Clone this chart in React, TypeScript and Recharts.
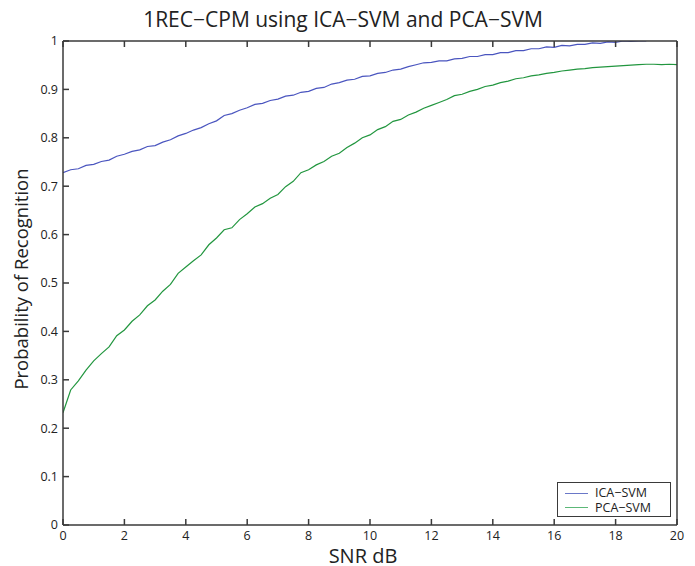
import React from "react";
import { LineChart, Line, XAxis, YAxis } from "recharts";

const snr = [
  0, 0.25, 0.5, 0.75, 1, 1.25, 1.5, 1.75, 2, 2.25, 2.5, 2.75, 3, 3.25, 3.5, 3.75,
  4, 4.25, 4.5, 4.75, 5, 5.25, 5.5, 5.75, 6, 6.25, 6.5, 6.75, 7, 7.25, 7.5, 7.75,
  8, 8.25, 8.5, 8.75, 9, 9.25, 9.5, 9.75, 10, 10.25, 10.5, 10.75, 11, 11.25, 11.5, 11.75,
  12, 12.25, 12.5, 12.75, 13, 13.25, 13.5, 13.75, 14, 14.25, 14.5, 14.75, 15, 15.25, 15.5, 15.75,
  16, 16.25, 16.5, 16.75, 17, 17.25, 17.5, 17.75, 18, 18.25, 18.5, 18.75, 19, 19.25, 19.5, 19.75, 20,
];

const icaSvm = [
  0.728, 0.734, 0.736, 0.743, 0.745, 0.751, 0.754, 0.762, 0.766, 0.772, 0.775, 0.782, 0.784, 0.791, 0.796, 0.804,
  0.809, 0.816, 0.821, 0.829, 0.835, 0.846, 0.85, 0.857, 0.862, 0.869, 0.871, 0.877, 0.88, 0.886, 0.888, 0.894,
  0.896, 0.902, 0.904, 0.911, 0.914, 0.919, 0.921, 0.927, 0.928, 0.933, 0.935, 0.94, 0.942, 0.947, 0.951, 0.955,
  0.956, 0.959, 0.959, 0.963, 0.964, 0.968, 0.968, 0.972, 0.972, 0.976, 0.976, 0.98, 0.98, 0.984, 0.984, 0.988,
  0.987, 0.991, 0.99, 0.993, 0.993, 0.996, 0.995, 0.998, 0.997, 1.0, 0.999, 1.0, 1.0, null, null, null, null,
];

const pcaSvm = [
  0.232, 0.279, 0.298, 0.32, 0.339, 0.354, 0.368, 0.391, 0.403, 0.421, 0.434, 0.453, 0.465, 0.483, 0.497, 0.52,
  0.533, 0.546, 0.558, 0.579, 0.593, 0.61, 0.614, 0.631, 0.643, 0.657, 0.664, 0.675, 0.683, 0.699, 0.71, 0.728,
  0.734, 0.744, 0.751, 0.762, 0.768, 0.78, 0.789, 0.8, 0.806, 0.817, 0.823, 0.834, 0.838, 0.847, 0.853, 0.861,
  0.867, 0.873, 0.879, 0.887, 0.89, 0.896, 0.9, 0.906, 0.909, 0.914, 0.917, 0.922, 0.924, 0.928, 0.93, 0.933,
  0.935, 0.938, 0.94, 0.942, 0.943, 0.945, 0.946, 0.947, 0.948, 0.949, 0.95, 0.951, 0.952, 0.952, 0.951, 0.952, 0.951,
];

const xTicks = [0, 2, 4, 6, 8, 10, 12, 14, 16, 18, 20];
const yTicks = [0, 0.1, 0.2, 0.3, 0.4, 0.5, 0.6, 0.7, 0.8, 0.9, 1];

const data = snr.map((s, i) => ({ snr: s, ica: icaSvm[i], pca: pcaSvm[i] }));

const FONT = "'Open Sans', 'Noto Sans', sans-serif";
const AXIS = "#3a3a3a";
const BLUE = "#4a55bf";
const GREEN = "#22963f";

const NoLabel = () => <g />;

const LegendBox = () => (
  <div
    style={{
      position: "absolute",
      left: 557,
      top: 482,
      width: 114,
      height: 35,
      border: `1px solid ${AXIS}`,
      background: "#fff",
      fontFamily: FONT,
      fontSize: 12.5,
      color: "#222",
      boxSizing: "border-box",
      padding: "3px 0 0 7px",
      lineHeight: "14px",
    }}
  >
    <div style={{ display: "flex", alignItems: "center", height: 14.5 }}>
      <span style={{ display: "inline-block", width: 23, height: 1, background: "#6a78c8", marginRight: 7 }} />
      ICA−SVM
    </div>
    <div style={{ display: "flex", alignItems: "center", height: 14.5 }}>
      <span style={{ display: "inline-block", width: 23, height: 1, background: "#5cb878", marginRight: 7 }} />
      PCA−SVM
    </div>
  </div>
);

const App = () => {
  return (
    <div style={{ position: "absolute", left: 0, top: 0, width: 695, height: 566, background: "#fff" }}>
      <LineChart
        width={695}
        height={566}
        data={data}
        margin={{ top: 40, right: 17, left: 0, bottom: 0 }}
      >
        <XAxis
          dataKey="snr"
          type="number"
          domain={[0, 20]}
          ticks={xTicks}
          height={41}
          allowDataOverflow
          stroke={AXIS}
          strokeWidth={1.5}
          tickSize={-6}
          tickMargin={12}
          tick={{ fill: "#222", fontSize: 12.5, fontFamily: FONT }}
        />
        <XAxis
          xAxisId="top"
          orientation="top"
          dataKey="snr"
          type="number"
          domain={[0, 20]}
          ticks={xTicks}
          height={1}
          stroke={AXIS}
          strokeWidth={1.5}
          tickSize={-6}
          tick={NoLabel}
        />
        <YAxis
          type="number"
          domain={[0, 1]}
          ticks={yTicks}
          width={63}
          allowDataOverflow
          stroke={AXIS}
          strokeWidth={1.5}
          tickSize={-6}
          tickMargin={11}
          tick={{ fill: "#222", fontSize: 12.5, fontFamily: FONT }}
        />
        <YAxis
          yAxisId="right"
          orientation="right"
          type="number"
          domain={[0, 1]}
          ticks={yTicks}
          width={1}
          stroke={AXIS}
          strokeWidth={1.5}
          tickSize={-6}
          tick={NoLabel}
        />
        <Line
          type="linear"
          dataKey="ica"
          name="ICA−SVM"
          stroke={BLUE}
          strokeWidth={1.2}
          dot={false}
          isAnimationActive={false}
        />
        <Line
          type="linear"
          dataKey="pca"
          name="PCA−SVM"
          stroke={GREEN}
          strokeWidth={1.2}
          dot={false}
          isAnimationActive={false}
        />
        <text x={343} y={27} textAnchor="middle" fontFamily={FONT} fontSize={21} fill="#222">
          1REC−CPM using ICA−SVM and PCA−SVM
        </text>
        <text x={363} y={563} textAnchor="middle" fontFamily={FONT} fontSize={20} fill="#222">
          SNR dB
        </text>
        <text
          transform="translate(28,279) rotate(-90)"
          textAnchor="middle"
          fontFamily={FONT}
          fontSize={18.5}
          fill="#222"
        >
          Probability of Recognition
        </text>
      </LineChart>
      <LegendBox />
    </div>
  );
};

export default App;
